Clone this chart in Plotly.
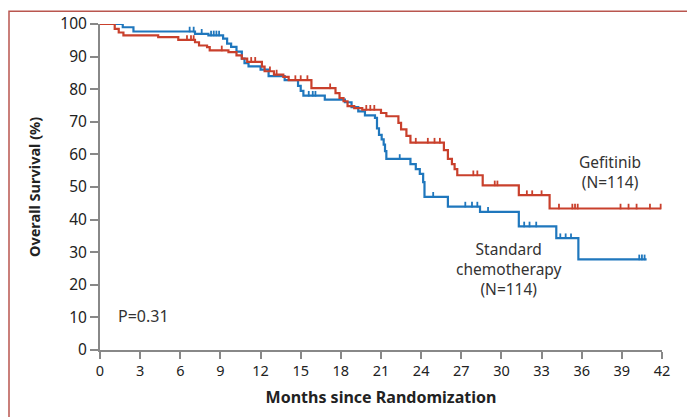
import numpy as np
import plotly.graph_objects as go

# ---- data ----
gef_t = [0, 1.1, 1.4, 1.75, 4.35, 5.85, 7.1, 7.4, 8.0, 8.2, 9.6, 10.2, 10.6, 11.0, 12.1,
         12.3, 13.0, 13.7, 14.1, 15.8, 17.6, 17.9, 18.2, 18.5, 19.0, 19.6, 21.0, 21.4,
         22.3, 22.5, 22.9, 23.2, 25.7, 26.0, 26.3, 26.5, 26.7, 28.6, 31.3, 33.6]
gef_s = [100, 98.5, 97.4, 96.5, 96, 95.1, 94.4, 93.4, 92.9, 91.9, 91.4, 90.4, 89.4, 88.4,
         86.9, 85.5, 84.5, 83.8, 82.8, 80.3, 78.8, 77.3, 76.3, 74.8, 74.2, 73.7, 72.7, 71.7,
         69.7, 67.7, 65.7, 63.6, 61.3, 58.6, 57, 55.5, 53.6, 50.5, 47.5, 43.4]
gef_end = 41.9
gef_cens = [6.5, 6.8, 7.0, 9.1, 11.3, 11.6, 12.7, 13.2, 14.6, 15.0, 15.5, 17.2, 19.9, 20.2,
            20.5, 23.6, 24.5, 25.0, 25.4, 27.9, 28.2, 29.5, 29.7, 31.9, 32.3, 33.0, 34.3,
            35.3, 35.5, 35.7, 38.9, 39.5, 40.1, 41.1, 41.9]

chemo_t = [0, 1.7, 2.5, 7.1, 8.1, 9.2, 9.5, 9.8, 10.2, 10.6, 10.8, 11.1, 12.0, 12.6, 13.8,
           14.8, 15.0, 15.2, 16.8, 18.3, 18.8, 19.3, 19.8, 20.55, 20.7, 20.85, 21.05, 21.2,
           21.3, 21.4, 23.2, 23.6, 23.9, 24.15, 24.25, 26.0, 28.4, 31.3, 34.1, 35.75]
chemo_s = [100, 99, 97.7, 97, 96.5, 95.5, 94, 93, 91.5, 89.4, 88, 87, 86, 84, 82.8, 81,
           79.5, 78, 76.8, 76, 74.5, 73.2, 72, 71.2, 68, 66, 64.6, 63, 61, 58.6, 57, 55.5,
           54, 51.5, 47, 44, 42.4, 37.9, 34.3, 27.8]
chemo_end = 40.85
chemo_cens = [6.7, 7.0, 7.6, 8.3, 8.5, 8.7, 8.9, 15.6, 15.9, 16.1, 22.4, 24.9, 27.3, 27.8,
              28.2, 29.0, 31.7, 32.1, 32.6, 34.4, 34.8, 35.2, 40.3, 40.5, 40.7]

x_ticks = list(range(0, 43, 3))
y_ticks = list(range(0, 101, 10))

RED = "#c9402c"
BLUE = "#1f77bd"


def step_value(times, surv, c):
    i = int(np.searchsorted(np.array(times), c, side="right")) - 1
    return surv[max(i, 0)]


fig = go.Figure()
for t, s, end, cens, col in [(chemo_t, chemo_s, chemo_end, chemo_cens, BLUE),
                             (gef_t, gef_s, gef_end, gef_cens, RED)]:
    fig.add_trace(go.Scatter(x=list(t) + [end], y=list(s) + [s[-1]], mode="lines",
                             line=dict(color=col, width=2.2, shape="hv"),
                             showlegend=False, hoverinfo="skip"))
    cy = [step_value(t, s, c) + 0.6 for c in cens]
    fig.add_trace(go.Scatter(x=cens, y=cy, mode="markers",
                             marker=dict(symbol="line-ns", size=4,
                                         line=dict(color=col, width=1.8)),
                             showlegend=False, hoverinfo="skip"))

txt = "#222222"
fig.update_layout(
    width=687, height=417,
    margin=dict(l=100, r=25, t=20, b=67),
    paper_bgcolor="white", plot_bgcolor="white",
    font=dict(family="Noto Sans", color=txt),
    xaxis=dict(range=[0, 42], tickvals=x_ticks, ticks="outside", ticklen=7,
               tickwidth=1.5, tickcolor="#888", showline=True, linecolor="#888",
               linewidth=2, showgrid=False, zeroline=False,
               tickfont=dict(size=14.5, color=txt),
               title=dict(text="<b>Months since Randomization</b>",
                          font=dict(size=16, color=txt), standoff=12)),
    yaxis=dict(range=[0, 100], tickvals=y_ticks, ticks="outside", ticklen=8,
               tickwidth=1.5, tickcolor="#888", showline=True, linecolor="#888",
               linewidth=2, showgrid=False, zeroline=False,
               tickfont=dict(size=15.5, color=txt),
               title=dict(text="<b>Overall Survival (%)</b>",
                          font=dict(size=14.5, color=txt), standoff=16)),
    shapes=[dict(type="rect", xref="paper", yref="paper",
                 x0=(9 - 100) / 562, x1=(720 - 100) / 562,
                 y0=(350 - 440) / 330, y1=(350 - 7) / 330,
                 line=dict(color="#b9564f", width=1.5), layer="below")],
    annotations=[
        dict(x=38.1, y=54.5, xref="x", yref="y", text="Gefitinib<br>(N=114)",
             showarrow=False, font=dict(size=15.5, color="#333"), align="center"),
        dict(x=30.6, y=25.0, xref="x", yref="y",
             text="Standard<br>chemotherapy<br>(N=114)",
             showarrow=False, font=dict(size=15.5, color="#333"), align="center"),
        dict(x=1.2, y=10.3, xref="x", yref="y", text="P=0.31", xanchor="left",
             showarrow=False, font=dict(size=16, color="#333")),
    ],
)

fig.write_html("out.html")
